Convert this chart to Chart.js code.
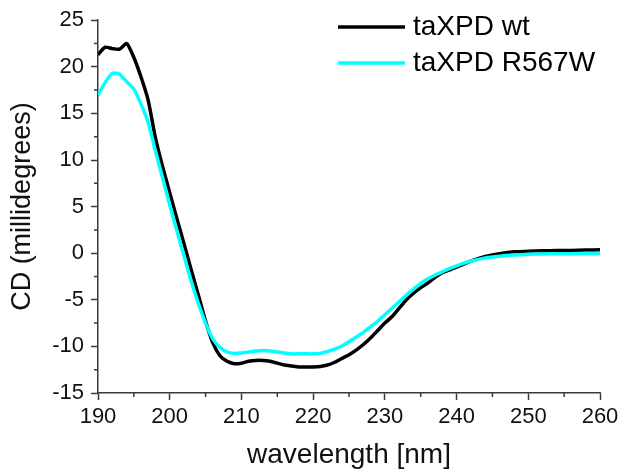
<!DOCTYPE html>
<html>
<head>
<meta charset="utf-8">
<script src="https://cdn.jsdelivr.net/npm/chart.js@4"></script>
<style>
  html, body { margin: 0; padding: 0; background: #fff; }
  #wrap { width: 619px; height: 472px; }
</style>
</head>
<body>
<div id="wrap"><canvas id="myChart"></canvas></div>
<script>
const wavelengths = [
  190, 191, 192, 193, 194, 195, 196, 197, 198, 199,
  200, 201, 202, 203, 204, 205, 206, 207, 208, 209,
  210, 211, 212, 213, 214, 215, 216, 217, 218, 219,
  220, 221, 222, 223, 224, 225, 226, 227, 228, 229,
  230, 231, 232, 233, 234, 235, 236, 237, 238, 239,
  240, 242, 244, 246, 248, 250, 252, 254, 256, 258, 260
];

const wtValues = [
  21.3, 22.1, 21.95, 21.9, 22.5, 21.0, 18.9, 16.4, 12.4, 9.3,
  6.5, 3.7, 1.0, -1.8, -4.5, -7.3, -9.6, -11.0, -11.6, -11.85,
  -11.8, -11.6, -11.5, -11.5, -11.6, -11.8, -12.0, -12.1, -12.2, -12.2,
  -12.2, -12.15, -12.0, -11.7, -11.3, -10.9, -10.4, -9.8, -9.1, -8.3,
  -7.5, -6.8, -5.9, -5.0, -4.3, -3.7, -3.2, -2.6, -2.1, -1.8,
  -1.5, -0.85, -0.35, -0.05, 0.15, 0.2, 0.25, 0.28, 0.3, 0.33, 0.38
];

const mutantValues = [
  17.0, 18.3, 19.3, 19.2, 18.4, 17.6, 16.0, 14.0, 11.0, 8.1,
  5.2, 2.4, -0.3, -3.0, -5.4, -7.5, -9.2, -10.1, -10.6, -10.75,
  -10.7, -10.6, -10.5, -10.45, -10.5, -10.6, -10.7, -10.8, -10.8, -10.8,
  -10.8, -10.75, -10.55, -10.3, -9.95, -9.5, -9.0, -8.5, -7.9, -7.3,
  -6.6, -5.9, -5.2, -4.5, -3.85, -3.25, -2.75, -2.35, -2.0, -1.65,
  -1.35, -0.85, -0.5, -0.32, -0.2, -0.12, -0.08, -0.06, -0.05, -0.04, -0.03
];

const seriesNames = ['taXPD wt', 'taXPD R567W'];
const xMinorTicks = [195, 205, 215, 225, 235, 245, 255];
const yMinorTicks = [-12.5, -7.5, -2.5, 2.5, 7.5, 12.5, 17.5, 22.5];

const toPoints = (ys) => wavelengths.map((x, i) => ({ x: x, y: ys[i] }));

const axisColor = '#3a3a3a';
const fontFamily = '"Liberation Sans", Arial, sans-serif';

// short minor ticks + legend inside the plot
const extras = {
  id: 'extras',
  afterDraw(chart) {
    const c = chart.ctx;
    const xs = chart.scales.x;
    const ys = chart.scales.y;
    c.save();
    c.strokeStyle = axisColor;
    c.lineWidth = 1.5;
    c.beginPath();
    xMinorTicks.forEach(v => {
      const px = xs.getPixelForValue(v);
      c.moveTo(px, xs.top);
      c.lineTo(px, xs.top + 4);
    });
    yMinorTicks.forEach(v => {
      const py = ys.getPixelForValue(v);
      c.moveTo(ys.right, py);
      c.lineTo(ys.right - 4, py);
    });
    c.stroke();

    c.font = '28px ' + fontFamily;
    c.textBaseline = 'middle';
    c.fillStyle = '#000';
    const rows = [27, 63];
    chart.data.datasets.forEach((ds, i) => {
      c.strokeStyle = ds.borderColor;
      c.lineWidth = 3.5;
      c.beginPath();
      c.moveTo(338, rows[i]);
      c.lineTo(405, rows[i]);
      c.stroke();
      c.fillText(ds.label, 413, rows[i]);
    });
    c.restore();
  }
};

const ctx = document.getElementById('myChart');

const cdChart = new Chart(ctx, {
  type: 'line',
  data: {
    datasets: [
      {
        label: seriesNames[0],
        data: toPoints(wtValues),
        borderColor: '#000000',
        borderWidth: 3.5,
        pointRadius: 0,
        tension: 0.2,
        order: 2
      },
      {
        label: seriesNames[1],
        data: toPoints(mutantValues),
        borderColor: '#00ffff',
        borderWidth: 3.5,
        pointRadius: 0,
        tension: 0.2,
        order: 1
      }
    ]
  },
  options: {
    responsive: true,
    maintainAspectRatio: false,
    animation: false,
    layout: { padding: { top: 11, right: 0, left: 0, bottom: 0 } },
    plugins: {
      legend: { display: false },
      tooltip: { enabled: false }
    },
    scales: {
      x: {
        type: 'linear',
        min: 190,
        max: 260,
        afterFit: (s) => { s.height = 79; s.paddingRight = 19; },
        ticks: {
          stepSize: 10,
          padding: 4,
          color: '#111',
          font: { family: fontFamily, size: 22 }
        },
        grid: { drawOnChartArea: false, drawTicks: true, tickLength: 7, tickColor: axisColor, tickWidth: 1.5 },
        border: { display: true, color: axisColor, width: 1.5 },
        title: {
          display: true,
          text: 'wavelength [nm]',
          color: '#111',
          padding: { top: 0, bottom: 0 },
          font: { family: fontFamily, size: 28 }
        }
      },
      y: {
        min: -15,
        max: 25,
        afterFit: (s) => { s.width = 98; },
        ticks: {
          stepSize: 5,
          padding: 7,
          color: '#111',
          font: { family: fontFamily, size: 22 }
        },
        grid: { drawOnChartArea: false, drawTicks: true, tickLength: 7, tickColor: axisColor, tickWidth: 1.5 },
        border: { display: true, color: axisColor, width: 1.5 },
        title: {
          display: true,
          text: 'CD (millidegrees)',
          color: '#111',
          padding: { top: 6, bottom: 0 },
          font: { family: fontFamily, size: 27 }
        }
      }
    }
  },
  plugins: [extras]
});
</script>
</body>
</html>
